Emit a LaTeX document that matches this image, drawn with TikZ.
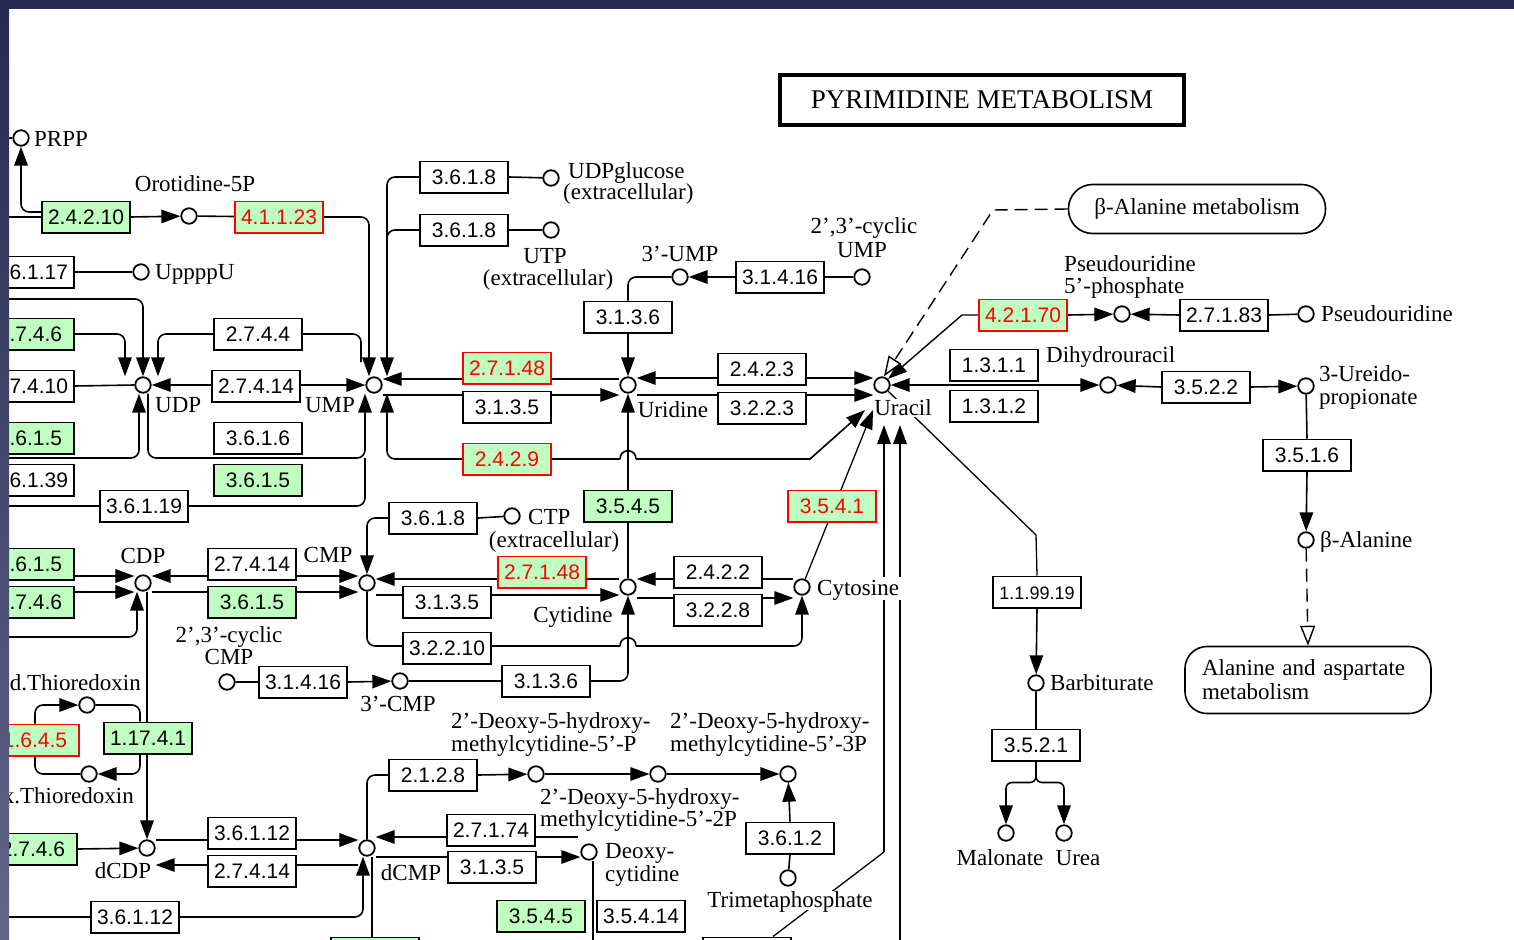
\documentclass[tikz,border=0pt]{standalone}
\usepackage{fontspec}
\setmainfont{Liberation Serif}
\newfontfamily\ecf{Liberation Sans}
\usetikzlibrary{arrows.meta}
\pgfdeclarelayer{base}
\pgfdeclarelayer{bg}
\pgfsetlayers{base,bg,main}
\definecolor{kg}{HTML}{BFFFBF}
\definecolor{navy}{HTML}{252B50}
\definecolor{navyb}{HTML}{62668A}
\tikzset{
  tri/.tip={Triangle[length=19pt,width=13.5pt]},
  otri/.tip={Triangle[open,length=20pt,width=15pt,fill=white]},
  ec/.style={draw=black, line width=1.6pt, fill=white, minimum width=88.4pt, minimum height=31.4pt,
    inner sep=0pt, text height=15pt, text depth=0pt, font=\ecf\fontsize{21}{24}\selectfont},
  ecg/.style={ec, fill=kg},
  ecr/.style={ec, fill=kg, draw=red, text=red},
  cpd/.style={circle, draw, line width=1.8pt, fill=white, minimum size=15.5pt, inner sep=0pt},
  lab/.style={inner sep=0pt, text height=15pt, text depth=0pt, font=\fontsize{23}{24}\selectfont},
  ln/.style={line width=1.6pt, rounded corners=8pt},
  arr/.style={ln, -tri},
  arrb/.style={ln, tri-tri},
  dl/.style={line width=1.3pt},
  dsh/.style={line width=1.4pt, dash pattern=on 13pt off 7pt, -otri},
  mapbox/.style={draw, line width=1.6pt, fill=white, inner sep=0pt, font=\fontsize{23}{24}\selectfont}
}
\begin{document}
\begin{tikzpicture}[x=1pt,y=-1pt]
\useasboundingbox (0,0) rectangle (1514,939);
\begin{pgfonlayer}{base}
\fill[white] (0,0) rectangle (1514,939);
\end{pgfonlayer}

% ---------- title and maps ----------
\node[draw, line width=4.5pt, minimum width=404pt, minimum height=50pt, inner sep=0pt,
      font=\fontsize{27}{30}\selectfont] (title) at (982,100) {PYRIMIDINE METABOLISM};
\node[mapbox, rounded corners=24pt, minimum width=257pt, minimum height=49pt] (balamap) at (1197,209) {β-Alanine metabolism};
\node[mapbox, rounded corners=22pt, minimum width=246pt, minimum height=67pt, align=left, text width=212pt] (alamap) at (1308,680) {Alanine and aspartate\\metabolism};

% ---------- compounds ----------
\node[cpd] (prpp) at (21,138) {};
\node[cpd] (oro) at (189,216) {};
\node[cpd] (upppu) at (141,272) {};
\node[cpd] (udp) at (143,385) {};
\node[cpd] (ump) at (374,385) {};
\node[cpd] (udpglc) at (551,178) {};
\node[cpd] (utpx) at (551,230) {};
\node[cpd] (ump3) at (680,277) {};
\node[cpd] (cump) at (862,277) {};
\node[cpd] (uridine) at (628,385) {};
\node[cpd] (uracil) at (882,385) {};
\node[cpd] (psu5p) at (1122,314) {};
\node[cpd] (psu) at (1306,314) {};
\node[cpd] (dhu) at (1108,385) {};
\node[cpd] (urp) at (1306,386) {};
\node[cpd] (bala) at (1306,540) {};
\node[cpd] (barb) at (1036,683) {};
\node[cpd] (malon) at (1006,833) {};
\node[cpd] (urea) at (1064,833) {};
\node[cpd] (ctpx) at (512,516) {};
\node[cpd] (cdp) at (143,583) {};
\node[cpd] (cmp) at (367,583) {};
\node[cpd] (cytidine) at (628,587) {};
\node[cpd] (cytosine) at (802,587) {};
\node[cpd] (ccmp) at (227,682) {};
\node[cpd] (cmp3) at (400,681) {};
\node[cpd] (trxr) at (87,705) {};
\node[cpd] (trxo) at (89,774) {};
\node[cpd] (dcdp) at (147,848) {};
\node[cpd] (dcmp) at (367,848) {};
\node[cpd] (hm1) at (536,774) {};
\node[cpd] (hm2) at (658,774) {};
\node[cpd] (hm3) at (788,774) {};
\node[cpd] (dcyt) at (589,852) {};
\node[cpd] (tmp) at (788,878) {};

% ---------- enzymes ----------
\node[ecg] (e24210) at (86,217) {2.4.2.10};
\node[ecr] (e41123) at (279,217) {4.1.1.23};
\node[ec] (e36117) at (30,272) {3.6.1.17};
\node[ecg] (e2746a) at (30,334) {2.7.4.6};
\node[ec] (e27410) at (30,386) {2.7.4.10};
\node[ecg] (e3615a) at (30,438) {3.6.1.5};
\node[ec] (e36139) at (30,480) {3.6.1.39};
\node[ec] (e36119) at (144,506) {3.6.1.19};
\node[ec] (e2744) at (258,334) {2.7.4.4};
\node[ec] (e27414a) at (256,386) {2.7.4.14};
\node[ec] (e3616) at (258,438) {3.6.1.6};
\node[ecg] (e3615b) at (258,480) {3.6.1.5};
\node[ec] (e3618a) at (464,177) {3.6.1.8};
\node[ec] (e3618b) at (464,230) {3.6.1.8};
\node[ecr] (e27148a) at (507,368) {2.7.1.48};
\node[ec] (e3135a) at (507,407) {3.1.3.5};
\node[ecr] (e2429) at (507,459) {2.4.2.9};
\node[ec] (e3136a) at (628,317) {3.1.3.6};
\node[ec] (e31416a) at (780,277) {3.1.4.16};
\node[ec] (e2423) at (762,369) {2.4.2.3};
\node[ec] (e3223) at (762,408) {3.2.2.3};
\node[ecr] (e42170) at (1023,315) {4.2.1.70};
\node[ec] (e27183) at (1224,315) {2.7.1.83};
\node[ec] (e1311) at (994,365) {1.3.1.1};
\node[ec] (e1312) at (994,406) {1.3.1.2};
\node[ec] (e3522) at (1206,387) {3.5.2.2};
\node[ec] (e3516) at (1307,455) {3.5.1.6};
\node[ec, font=\ecf\fontsize{18}{20}\selectfont] (e119919) at (1037,592) {1.1.99.19};
\node[ec] (e3521) at (1036,745) {3.5.2.1};
\node[ecg] (e3545a) at (628,506) {3.5.4.5};
\node[ecr] (e3541) at (832,506) {3.5.4.1};
\node[ec] (e3618c) at (433,518) {3.6.1.8};
\node[ecg] (e3615c) at (30,564) {3.6.1.5};
\node[ecg] (e2746b) at (30,602) {2.7.4.6};
\node[ec] (e27414b) at (252,564) {2.7.4.14};
\node[ecg] (e3615d) at (252,602) {3.6.1.5};
\node[ecr] (e27148b) at (542,572) {2.7.1.48};
\node[ec] (e3135b) at (447,602) {3.1.3.5};
\node[ec] (e2422) at (718,572) {2.4.2.2};
\node[ec] (e3228) at (718,610) {3.2.2.8};
\node[ec] (e32210) at (447,648) {3.2.2.10};
\node[ec] (e3136b) at (546,681) {3.1.3.6};
\node[ec] (e31416b) at (303,682) {3.1.4.16};
\node[ecr] (e1645) at (35,740) {1.6.4.5};
\node[ecg] (e11741) at (148,738) {1.17.4.1};
\node[ecg] (e2746c) at (33,849) {2.7.4.6};
\node[ec] (e36112a) at (252,833) {3.6.1.12};
\node[ec] (e27414c) at (252,871) {2.7.4.14};
\node[ec] (e36112b) at (135,917) {3.6.1.12};
\node[ec] (e2128) at (433,775) {2.1.2.8};
\node[ec] (e27174) at (491,830) {2.7.1.74};
\node[ec] (e3135c) at (492,867) {3.1.3.5};
\node[ec] (e3612) at (790,838) {3.6.1.2};
\node[ecg] (e3545b) at (541,916) {3.5.4.5};
\node[ec] (e35414) at (641,916) {3.5.4.14};
\node[ecg] (ebot1) at (375,953) {};
\node[ec] (ebot2) at (747,953) {};

% ---------- labels ----------
\node[lab, anchor=west] at (34,139) {PRPP};
\node[lab] at (195,184) {Orotidine-5P};
\node[lab, anchor=west] at (155,272) {UppppU};
\node[lab, anchor=west] at (155,405) {UDP};
\node[lab] at (330,405) {UMP};
\node[lab, anchor=west] at (568,171) {UDPglucose};
\node[lab, anchor=west] at (563,192) {(extracellular)};
\node[lab] at (545,256) {UTP};
\node[lab] at (548,278) {(extracellular)};
\node[lab] at (680,254) {3'-UMP};
\node[lab] at (864,226) {2',3'-cyclic};
\node[lab] at (862,250) {UMP};
\node[lab] at (673,410) {Uridine};
\node[lab, fill=white, inner sep=1.5pt] at (903,408) {Uracil};
\node[lab, anchor=west] at (1046,355) {Dihydrouracil};
\node[lab, anchor=west] at (1064,264) {Pseudouridine};
\node[lab, anchor=west] at (1064,286) {5'-phosphate};
\node[lab, anchor=west] at (1321,314) {Pseudouridine};
\node[lab, anchor=west] at (1319,374) {3-Ureido-};
\node[lab, anchor=west] at (1319,397) {propionate};
\node[lab, anchor=west] at (1320,540) {β-Alanine};
\node[lab, anchor=west] at (1050,683) {Barbiturate};
\node[lab] at (1000,858) {Malonate};
\node[lab] at (1078,858) {Urea};
\node[lab, anchor=west] at (528,517) {CTP};
\node[lab] at (554,540) {(extracellular)};
\node[lab] at (143,556) {CDP};
\node[lab] at (328,555) {CMP};
\node[lab] at (573,615) {Cytidine};
\node[lab, anchor=west, fill=white, inner xsep=3pt, inner ysep=4pt] at (814,588) {Cytosine};
\node[lab] at (229,635) {2',3'-cyclic};
\node[lab] at (229,657) {CMP};
\node[lab] at (398,704) {3'-CMP};
\node[lab, anchor=east] at (141,683) {Red.Thioredoxin};
\node[lab, anchor=east] at (134,796) {Ox.Thioredoxin};
\node[lab] at (123,871) {dCDP};
\node[lab] at (411,873) {dCMP};
\node[lab, anchor=west] at (451,721) {2'-Deoxy-5-hydroxy-};
\node[lab, anchor=west] at (451,744) {methylcytidine-5'-P};
\node[lab, anchor=west] at (670,721) {2'-Deoxy-5-hydroxy-};
\node[lab, anchor=west] at (670,744) {methylcytidine-5'-3P};
\node[lab, anchor=west] at (540,797) {2'-Deoxy-5-hydroxy-};
\node[lab, anchor=west] at (540,819) {methylcytidine-5'-2P};
\node[lab, anchor=west] at (605,851) {Deoxy-};
\node[lab, anchor=west] at (605,874) {cytidine};
\node[lab, fill=white, inner sep=2pt] at (790,900) {Trimetaphosphate};

% free ends
\coordinate (u2429) at (865,410);
\coordinate (u3541) at (873,410);
\coordinate (ub1) at (884,425);
\coordinate (ub2) at (900,425);
\coordinate (c27174) at (578,837);

% ---------- connectors ----------
\begin{pgfonlayer}{bg}
\draw[ln] (0,138) -- (prpp);
\draw[ln] (0,217) -- (e24210.west);
\draw[arr] ([yshift=5]e24210.west) -| (prpp.south);
\draw[arr] (e24210.east) -- (oro);
\draw[ln] (oro) -- (e41123);
\draw[arr] (e41123.east) -| ([xshift=-5]ump.north);
\draw[ln] (e36117.east) -- (upppu);
\draw[arr] (0,299) -| (udp.north);
\draw[arr] (e2746a.east) -| ([xshift=-18]udp.north);
\draw[arr] (e2744.west) -| ([xshift=15]udp.north);
\draw[ln] (e2744.east) -| (361,362);
\draw[ln] (e27410.east) -- (udp.west);
\draw[arrb] (udp.east) -- (ump.west);
\draw[arr] (0,458) -| ([xshift=-4]udp.south);
\draw[arr] ([xshift=5]udp.south) |- (365,458) -- ([xshift=-9]ump.south);
\draw[ln] (0,506) -- (e36119.west);
\draw[ln] (e36119.east) -| (365,458);
\draw[arr] (e3618a.west) -| ([xshift=13]ump.north);
\draw[ln] (e3618a.east) -- (udpglc);
\draw[ln] (e3618b.west) -| (387,300);
\draw[ln] (e3618b.east) -- (utpx);
% 2.4.2.9
\draw[ln, tri-] ([xshift=13]ump.south) |- (620,459);
\draw[line width=1.6pt] (620,459) .. controls (620,448) and (636,448) .. (636,459);
\draw[line width=1.6pt, -tri] (636,459) -- (810,459) -- (u2429);
% uridine
\draw[arr] ([yshift=6]uridine.west) -- ([yshift=6]ump.east);
\draw[arr] ([yshift=-10]ump.east) -- ([yshift=-10]uridine.west);
\draw[arr] (e3136a.south) -- (uridine.north);
\draw[ln] (e3136a.north) |- (ump3.west);
\draw[arr] (e31416a.west) -- (ump3.east);
\draw[ln] (e31416a.east) -- (cump.west);
\draw[arrb] ([yshift=7]uridine.east) -- ([yshift=7]uracil.west);
\draw[arr] ([yshift=-10]uridine.east) -- ([yshift=-10]uracil.west);
\draw[arr] (cytidine.north) -- (uridine.south);
% uracil
\draw[line width=1.4pt, -tri] (e42170.west) -- (962,315) -- (uracil.north east);
\draw[dsh] (balamap.west) -- (993,210) -- ([xshift=2]uracil.north);
\draw[arr] (e42170.east) -- (psu5p);
\draw[arr] (e27183.west) -- (psu5p);
\draw[ln] (e27183.east) -- (psu);
\draw[arrb] (uracil.east) -- (dhu.west);
\draw[arr] (e3522.west) -- (dhu);
\draw[arr] (e3522.east) -- (urp);
\draw[ln] (urp) -- (e3516.north);
\draw[arr] (e3516.south) -- (bala);
\draw[dsh] (bala) -- (alamap.north);
\draw[dl] (uracil.south east) -- (1036,535) -- (e119919.north);
\draw[arr] (e119919.south) -- (barb);
\draw[ln] (barb) -- (e3521.north);
\draw[arr, rounded corners=6pt] (e3521.south) -- ++(0,21) -| (malon.north);
\draw[arr, rounded corners=6pt] (e3521.south) -- ++(0,21) -| (urea.north);
\draw[dl, -tri] (cytosine) -- (u3541);
% CDP / CMP
\draw[arr] (0,576) -- ([yshift=7]cdp.west);
\draw[arr] (0,592) -- ([yshift=-9]cdp.west);
\draw[arrb] ([yshift=7]cdp.east) -- ([yshift=7]cmp.west);
\draw[arr] ([yshift=-9]cdp.east) -- ([yshift=-9]cmp.west);
\draw[arr] (0,637) -| ([xshift=-6]cdp.south);
\draw[arr] ([xshift=4]cdp.south) -- (dcdp.north);
\draw[ln] (ctpx) -- (e3618c.east);
\draw[arr] (e3618c.west) -| (cmp.north);
\draw[arr] ([yshift=8]cytidine.west) -- ([yshift=4]cmp.east);
\draw[arr] ([yshift=-12]cmp.east) -- ([yshift=-8]cytidine.west);
\draw[arr] ([yshift=8]cytosine.west) -- ([yshift=8]cytidine.east);
\draw[arr] ([yshift=-11]cytidine.east) -- ([yshift=-11]cytosine.west);
\draw[ln] (cmp.south) |- (620,646);
\draw[line width=1.6pt] (620,646) .. controls (620,635) and (636,635) .. (636,646);
\draw[arr] (636,646) -| (cytosine.south);
\draw[arr] (e3136b.east) -| (cytidine.south);
\draw[ln] (cmp3) -- (e3136b.west);
\draw[ln] (ccmp) -- (e31416b.west);
\draw[arr] (e31416b.east) -- (cmp3);
% thioredoxin
\draw[arr] (e1645.north) |- (trxr);
\draw[ln] (trxr) -| ([xshift=-8]e11741.north);
\draw[arr] ([xshift=-8]e11741.south) |- (trxo);
\draw[ln] (trxo) -| (e1645.south);
% dCDP / dCMP
\draw[arr] (e2746c.east) -- (dcdp);
\draw[arr] ([yshift=8]dcdp.east) -- ([yshift=8]dcmp.west);
\draw[arr] ([yshift=-17]dcmp.west) -- ([yshift=-17]dcdp.east);
\draw[ln] (0,917) -- (e36112b.west);
\draw[arr] (e36112b.east) -| ([xshift=-4]dcmp.south);
\draw[ln] ([xshift=5]dcmp.south) -- ([xshift=-3]ebot1.north);
\draw[ln] (dcmp.north) |- (e2128.west);
\draw[arr] (e2128.east) -- (hm1);
\draw[arr] (hm1) -- (hm2);
\draw[arr] (hm2) -- (hm3);
\draw[arr] (e3612.north) -- (hm3);
\draw[ln] (e3612.south) -- (tmp);
\draw[arr] (c27174) -- ([yshift=11]dcmp.east);
\draw[arr] ([yshift=-9]dcmp.east) -- ([yshift=-5]dcyt.west);
\draw[ln] ([xshift=4]dcyt.south) -- (593,945);
\draw[dl] ([xshift=26]ebot2.north) -- (884,852);
\draw[arr] (884,852) -- (ub1);
\draw[arr] (900,945) -- (ub2);
\end{pgfonlayer}

% ---------- frame ----------
\shade[top color=navy, bottom color=navyb] (0,0) rectangle (9,939);
\fill[navy] (0,0) rectangle (1514,9);
\end{tikzpicture}
\end{document}
